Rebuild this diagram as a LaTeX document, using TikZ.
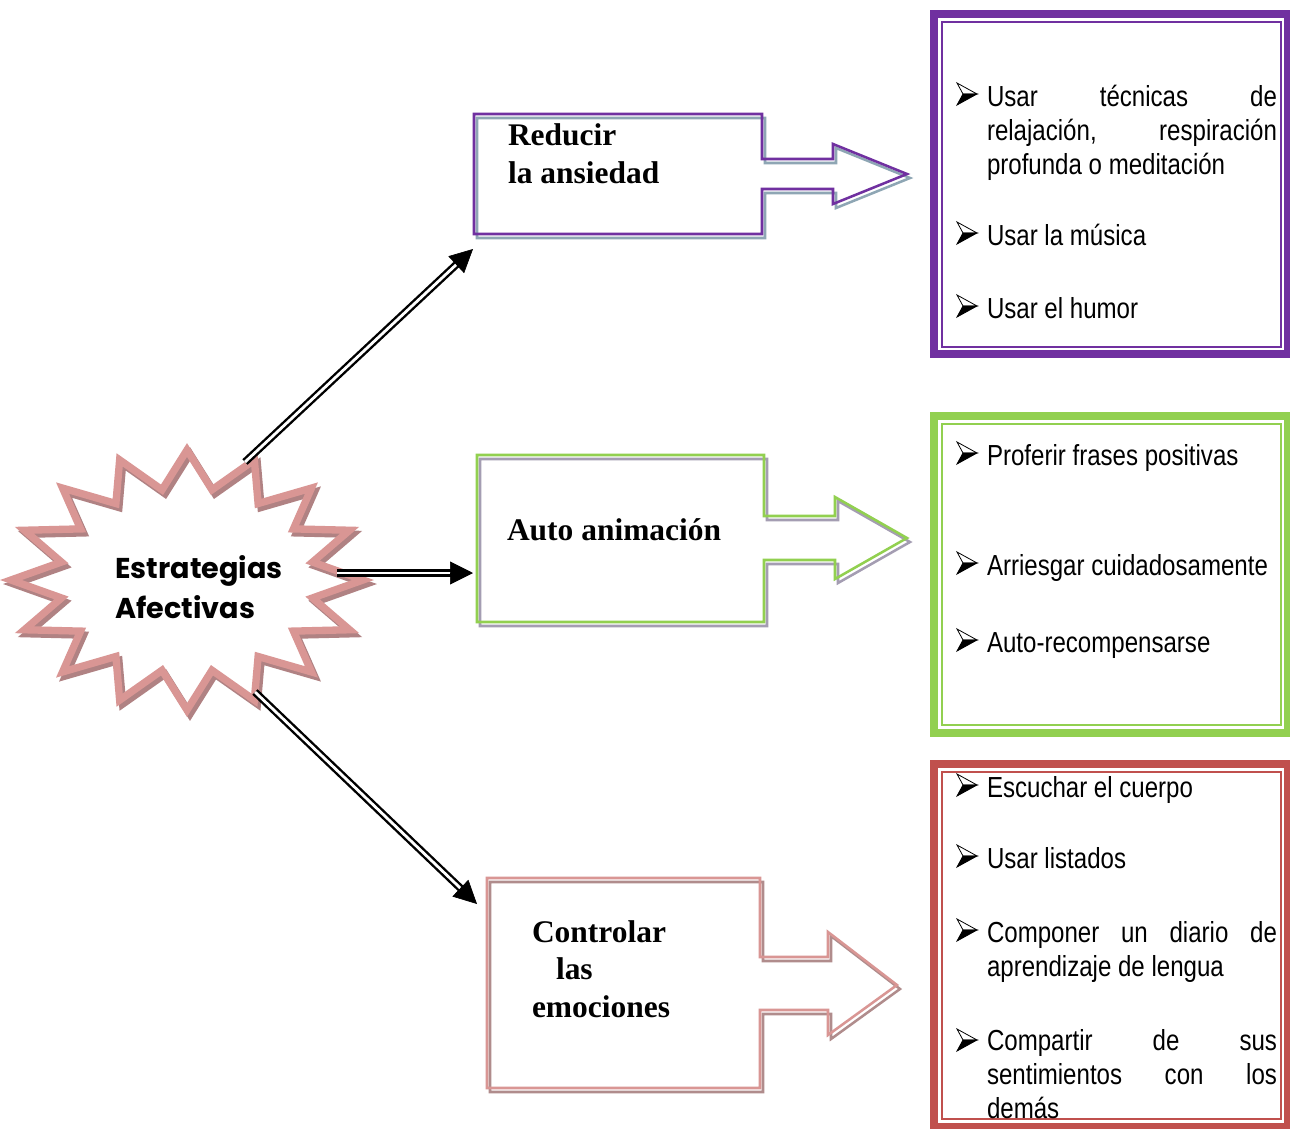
\documentclass[tikz,border=0pt]{standalone}
\usepackage{fontspec}
\setmainfont{Liberation Serif}
\newfontfamily\listfont[FakeStretch=0.83]{Liberation Sans}
\newfontfamily\starfont{Poppins}
\usetikzlibrary{arrows.meta,calc}

\definecolor{purp}{HTML}{7030A0}
\definecolor{purpshadow}{HTML}{8EA6B4}
\definecolor{grn}{HTML}{92D050}
\definecolor{grnshadow}{HTML}{A49DB2}
\definecolor{rose}{HTML}{D99694}
\definecolor{roseshadow}{HTML}{B08C8C}
\definecolor{brick}{HTML}{C0504D}
\definecolor{starpink}{HTML}{D99694}
\definecolor{starshadow}{HTML}{B08283}

\tikzset{
  shaft/.style={draw=black, double=white, double distance=2.1pt, line width=1.8pt, shorten >=15pt},
  head/.style={-{Triangle[length=17.25pt,width=17.25pt]}, line width=0.5pt},
  callout/.style={line width=1.9pt, line join=miter},
  lbl/.style={anchor=base west, align=left, inner sep=0pt, outer sep=0pt,
    font=\bfseries\fontsize{23.6}{28}\selectfont},
  item/.style={anchor=base west, align=left, inner sep=0pt, outer sep=0pt,
    font=\listfont\fontsize{21.75}{25.5}\selectfont},
  thickframe/.style={line width=6pt},
  thinframe/.style={line width=1.5pt},
  arrowbullet/.pic={
    \filldraw[fill=white, draw=black, line width=0.6pt, line join=miter] (0,-11) -- (20,0) -- (6,0) -- cycle;
    \filldraw[fill=black, draw=black, line width=0.6pt, line join=miter] (6,0) -- (20,0) -- (0,11) -- cycle;
  }
}
\newcommand\jline[1]{\makebox[217.5pt][s]{#1}}

\begin{document}
\begin{tikzpicture}[x=0.75pt, y=-0.75pt]
\useasboundingbox (0,0) rectangle (1290,1129);
\fill[white] (0,0) rectangle (1290,1129);

% ---- starburst ----
\draw[starshadow, line width=5.5pt, line join=miter, shift={(3,4)}]
  (363,580) \foreach \i in {1,...,31} {
    -- ({187+ifthenelse(isodd(\i),128,176)*cos(\i*11.25)}, {580-ifthenelse(isodd(\i),92,130)*sin(\i*11.25)})
  } -- cycle;
\draw[starpink, line width=5.5pt, line join=miter]
  (363,580) \foreach \i in {1,...,31} {
    -- ({187+ifthenelse(isodd(\i),128,176)*cos(\i*11.25)}, {580-ifthenelse(isodd(\i),92,130)*sin(\i*11.25)})
  } -- cycle;
% multi-line nodes: the base anchor sits on the last line
\node[anchor=base west, align=left, inner sep=0pt, font=\starfont\bfseries\fontsize{21.5}{30}\selectfont]
  (star) at (115,618) {Estrategias\\Afectivas};

% ---- callout 1 ----
\draw[callout, purpshadow, shift={(3,4)}]
  (474,114) -- (762,114) -- (762,159) -- (833,159) -- (833,144) -- (907,174) -- (833,204)
  -- (833,189) -- (762,189) -- (762,234) -- (474,234) -- cycle;
\draw[callout, purp]
  (474,114) -- (762,114) -- (762,159) -- (833,159) -- (833,144) -- (907,174) -- (833,204)
  -- (833,189) -- (762,189) -- (762,234) -- (474,234) -- cycle;
\node[lbl] (l1) at (508,183) {Reducir\\la ansiedad};

% ---- callout 2 ----
\draw[callout, grnshadow, shift={(3,4)}]
  (477,455) -- (764,455) -- (764,516) -- (835,516) -- (835,497) -- (907,538) -- (835,579)
  -- (835,560) -- (764,560) -- (764,622) -- (477,622) -- cycle;
\draw[callout, grn]
  (477,455) -- (764,455) -- (764,516) -- (835,516) -- (835,497) -- (907,538) -- (835,579)
  -- (835,560) -- (764,560) -- (764,622) -- (477,622) -- cycle;
\node[lbl] (l2) at (507,540) {Auto animación};

% ---- callout 3 ----
\draw[callout, roseshadow, shift={(3,4)}]
  (487,878) -- (760,878) -- (760,957) -- (828,957) -- (828,932) -- (897,985) -- (828,1035)
  -- (828,1010) -- (760,1010) -- (760,1088) -- (487,1088) -- cycle;
\draw[callout, rose]
  (487,878) -- (760,878) -- (760,957) -- (828,957) -- (828,932) -- (897,985) -- (828,1035)
  -- (828,1010) -- (760,1010) -- (760,1088) -- (487,1088) -- cycle;
\node[lbl] (l3) at (532,1017) {Controlar\\\hspace*{18pt}las\\emociones};

% ---- connectors from the starburst ----
\coordinate (s1) at (245,462); \coordinate (t1) at (473,249);
\coordinate (s2) at (337,573); \coordinate (t2) at (473,573);
\coordinate (s3) at (255,692); \coordinate (t3) at (477,904);
\foreach \s/\t in {s1/t1, s2/t2, s3/t3} {
  \draw[shaft] (\s) -- (\t);
  \draw[head] ($(\t)!17pt!(\s)$) -- (\t);
}

% ---- list frames ----
\draw[purp, thickframe] (934,14) rectangle (1288,354);
\draw[purp, thinframe] (942,22) rectangle (1281,347);
\draw[grn, thickframe] (934,416) rectangle (1288,733);
\draw[grn, thinframe] (942,424) rectangle (1281,725);
\draw[brick, thickframe] (934,764) rectangle (1288,1127);
\draw[brick, thinframe] (942,772) rectangle (1281,1119);

% ---- list items ----
\foreach \y in {106,245,318,465,575,652,797,868,942,1052}
  \pic at (957,\y-12) {arrowbullet};

\node[item] (a1) at (987,174) {\jline{Usar técnicas de}\\\jline{relajación, respiración}\\profunda o meditación};
\node[item] (a2) at (987,245) {Usar la música};
\node[item] (a3) at (987,318) {Usar el humor};

\node[item] (b1) at (987,465) {Proferir frases positivas};
\node[item] (b2) at (987,575) {Arriesgar cuidadosamente};
\node[item] (b3) at (987,652) {Auto-recompensarse};

\node[item] (c1) at (987,797) {Escuchar el cuerpo};
\node[item] (c2) at (987,868) {Usar listados};
\node[item] (c3) at (987,976) {\jline{Componer un diario de}\\aprendizaje de lengua};
\node[item] (c4) at (987,1118) {\jline{Compartir de sus}\\\jline{sentimientos con los}\\demás};
\end{tikzpicture}
\end{document}
